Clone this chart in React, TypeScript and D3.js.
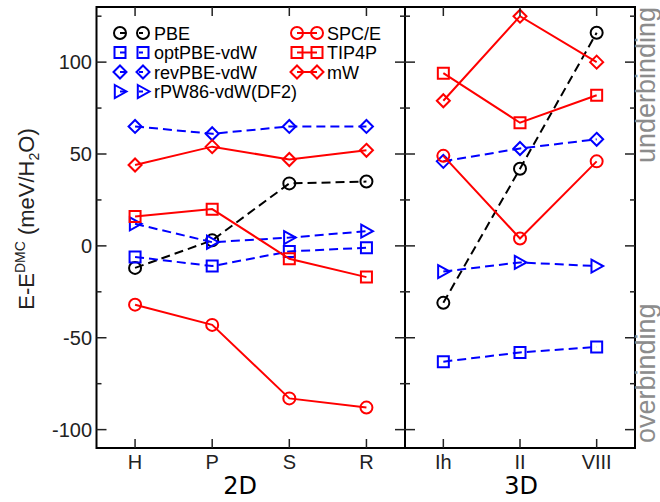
import React from "react";
import * as d3 from "d3";

// categories
const cats2D = ["H", "P", "S", "R"];
const cats3D = ["Ih", "II", "VIII"];

// series values (meV/H2O) for 2D and 3D structures
const pbe2D = [-12, 3, 34, 35];
const pbe3D = [-31, 42, 116];
const optPBE2D = [-6, -11, -3, -1];
const optPBE3D = [-63, -58, -55];
const revPBE2D = [65, 61, 65, 65];
const revPBE3D = [46, 53, 58];
const rPW862D = [12, 2, 4.5, 8];
const rPW863D = [-14, -9, -11];
const spce2D = [-32, -43, -83, -88];
const spce3D = [49, 4, 46];
const tip4p2D = [16, 20, -7, -17];
const tip4p3D = [94, 67, 82];
const mW2D = [44, 54, 47, 52];
const mW3D = [79, 125, 100];

const yTicks = [-100, -50, 0, 50, 100];

type Marker = "circle" | "square" | "diamond" | "triangle";

const series = [
  { name: "PBE", color: "#000000", dashed: true, marker: "circle" as Marker, v2: pbe2D, v3: pbe3D },
  { name: "optPBE-vdW", color: "#0000ff", dashed: true, marker: "square" as Marker, v2: optPBE2D, v3: optPBE3D },
  { name: "revPBE-vdW", color: "#0000ff", dashed: true, marker: "diamond" as Marker, v2: revPBE2D, v3: revPBE3D },
  { name: "rPW86-vdW(DF2)", color: "#0000ff", dashed: true, marker: "triangle" as Marker, v2: rPW862D, v3: rPW863D },
  { name: "SPC/E", color: "#ff0000", dashed: false, marker: "circle" as Marker, v2: spce2D, v3: spce3D },
  { name: "TIP4P", color: "#ff0000", dashed: false, marker: "square" as Marker, v2: tip4p2D, v3: tip4p3D },
  { name: "mW", color: "#ff0000", dashed: false, marker: "diamond" as Marker, v2: mW2D, v3: mW3D },
];

const left = 96.5;
const mid = 405;
const right = 635;
const top = 7;
const bottom = 448;

const y = d3.scaleLinear().domain([-110, 130]).range([bottom, top]);
const x2 = d3.scalePoint<string>().domain(cats2D).range([left, mid]).padding(0.5);
const x3 = d3.scalePoint<string>().domain(cats3D).range([mid, right]).padding(0.5);

function markerPath(m: Marker, cx: number, cy: number) {
  if (m === "circle") {
    const r = 6;
    return `M${cx + r},${cy}A${r},${r} 0 1,1 ${cx - r},${cy}A${r},${r} 0 1,1 ${cx + r},${cy}Z`;
  }
  if (m === "square") {
    const h = 5.5;
    return `M${cx - h},${cy - h}H${cx + h}V${cy + h}H${cx - h}Z`;
  }
  if (m === "diamond") {
    const h = 6.5;
    return `M${cx},${cy - h}L${cx + h},${cy}L${cx},${cy + h}L${cx - h},${cy}Z`;
  }
  const h = 6.5;
  return `M${cx - h * 0.8},${cy - h}L${cx + h},${cy}L${cx - h * 0.8},${cy + h}Z`;
}

const font = "'Liberation Sans', Arial, Helvetica, sans-serif";

export default function App() {
  const line = d3
    .line<[number, number]>()
    .x((d) => d[0])
    .y((d) => d[1]);

  const minor = d3.range(-100, 130, 25);

  const yTickMarks: JSX.Element[] = [];
  minor.forEach((t) => {
    const len = t % 50 === 0 ? 10 : 5;
    const yy = y(t);
    [
      [left, len],
      [mid, -len],
      [mid, len],
      [right, -len],
    ].forEach(([x0, l], i) => {
      yTickMarks.push(
        <line key={`yt${t}-${i}`} x1={x0} x2={x0 + l} y1={yy} y2={yy} stroke="#222" strokeWidth={1.5} />
      );
    });
  });

  const xTickMarks: JSX.Element[] = [];
  const addX = (xs: d3.ScalePoint<string>, cats: string[]) =>
    cats.forEach((c) => {
      const xx = xs(c)!;
      xTickMarks.push(
        <line key={`xb${c}`} x1={xx} x2={xx} y1={bottom} y2={bottom - 9} stroke="#222" strokeWidth={1.5} />,
        <line key={`xt${c}`} x1={xx} x2={xx} y1={top} y2={top + 9} stroke="#222" strokeWidth={1.5} />
      );
    });
  addX(x2, cats2D);
  addX(x3, cats3D);

  const legendLeft = series.slice(0, 4);
  const legendRight = series.slice(4);

  const legendItem = (s: (typeof series)[number], i: number, m1: number, m2: number, tx: number) => {
    const ly = 33 + i * 19.5;
    return (
      <g key={`lg-${s.name}`}>
        <line
          x1={m1}
          x2={m2}
          y1={ly}
          y2={ly}
          stroke={s.color}
          strokeWidth={2}
          strokeDasharray={s.dashed ? "6,13" : undefined}
        />
        <path d={markerPath(s.marker, m1, ly)} fill="none" stroke={s.color} strokeWidth={2} />
        <path d={markerPath(s.marker, m2, ly)} fill="none" stroke={s.color} strokeWidth={2} />
        <text x={tx} y={ly + 6.5} fontSize={18} fontFamily={font} fill="#000">
          {s.name}
        </text>
      </g>
    );
  };

  return (
    <svg width={660} height={502} style={{ position: "absolute", left: 0, top: 0, background: "#fff" }}>
      <rect x={0} y={0} width={660} height={502} fill="#fff" />

      {/* series */}
      {series.map((s) => {
        const p2 = s.v2.map((v, i) => [x2(cats2D[i])!, y(v)] as [number, number]);
        const p3 = s.v3.map((v, i) => [x3(cats3D[i])!, y(v)] as [number, number]);
        return (
          <g key={s.name}>
            {[p2, p3].map((pts, k) => (
              <g key={k}>
                <path
                  d={line(pts)!}
                  fill="none"
                  stroke={s.color}
                  strokeWidth={2}
                  strokeDasharray={s.dashed ? "9,5" : undefined}
                />
                {pts.map((p, j) => (
                  <path key={j} d={markerPath(s.marker, p[0], p[1])} fill="none" stroke={s.color} strokeWidth={2} />
                ))}
              </g>
            ))}
          </g>
        );
      })}

      {/* frame */}
      <rect x={left} y={top} width={right - left} height={bottom - top} fill="none" stroke="#000" strokeWidth={2} />
      <line x1={mid} x2={mid} y1={top} y2={bottom} stroke="#000" strokeWidth={2} />
      {yTickMarks}
      {xTickMarks}

      {/* y tick labels */}
      {yTicks.map((t) => (
        <text key={t} x={92} y={y(t) + 7} textAnchor="end" fontSize={20} fontFamily={font} fill="#222">
          {t}
        </text>
      ))}

      {/* x tick labels */}
      {cats2D.map((c) => (
        <text key={c} x={x2(c)} y={469} textAnchor="middle" fontSize={20} fontFamily={font} fill="#222">
          {c}
        </text>
      ))}
      {cats3D.map((c) => (
        <text key={c} x={x3(c)} y={469} textAnchor="middle" fontSize={20} fontFamily={font} fill="#222">
          {c}
        </text>
      ))}

      <text x={240} y={494} textAnchor="middle" fontSize={24} fontFamily="'DejaVu Sans', sans-serif" fill="#000">
        2D
      </text>
      <text x={521} y={494} textAnchor="middle" fontSize={24} fontFamily="'DejaVu Sans', sans-serif" fill="#000">
        3D
      </text>

      {/* y axis label */}
      <text
        transform={`translate(34,${219}) rotate(-90)`}
        textAnchor="middle"
        fontSize={22}
        fontFamily={font}
        fill="#222"
      >
        E-E
        <tspan fontSize={14} dy={-9}>
          DMC
        </tspan>
        <tspan dy={9}> (meV/H</tspan>
        <tspan fontSize={14} dy={5}>
          2
        </tspan>
        <tspan dy={-5}>O)</tspan>
      </text>

      {/* side annotations */}
      <text transform={`translate(655,163) rotate(-90)`} fontSize={27} fontFamily={font} fill="#8c8c8c">
        underbinding
      </text>
      <text transform={`translate(655,443) rotate(-90)`} fontSize={27} fontFamily={font} fill="#8c8c8c">
        overbinding
      </text>

      {/* legend */}
      {legendLeft.map((s, i) => legendItem(s, i, 120, 143, 154))}
      {legendRight.map((s, i) => legendItem(s, i, 297, 317, 327))}
    </svg>
  );
}
